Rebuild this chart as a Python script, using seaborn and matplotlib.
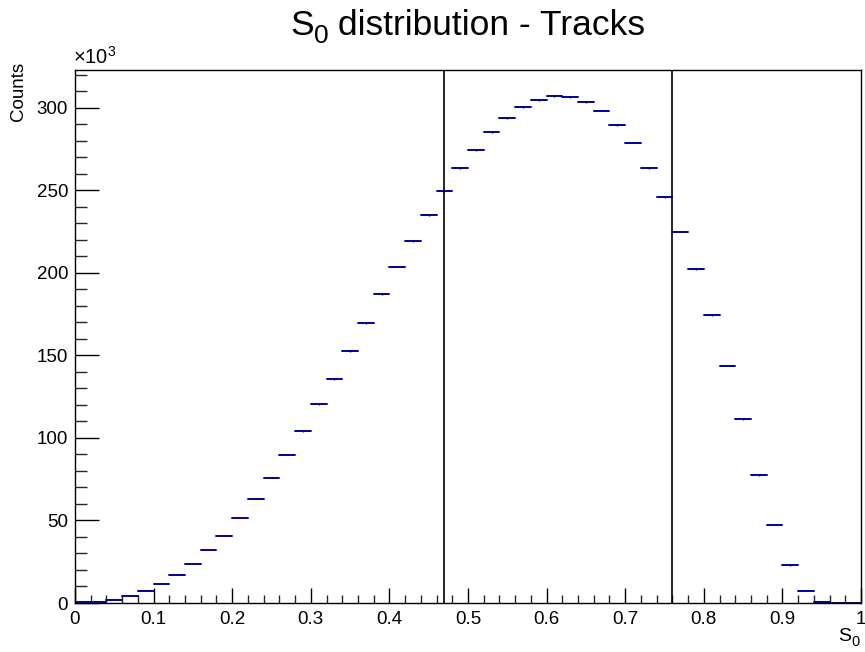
import numpy as np
import pandas as pd
import matplotlib
matplotlib.use("Agg")
import matplotlib.pyplot as plt
import seaborn as sns
from matplotlib.ticker import MultipleLocator, FuncFormatter

# S0 histogram: 50 bins on [0, 1]
bin_edges = np.linspace(0.0, 1.0, 51)
counts = np.array([
    0.4, 0.8, 1.8, 4.4, 7.5, 11.7, 17.2, 23.6, 32.1, 40.8,
    51.5, 63.2, 75.8, 89.7, 104.2, 120.4, 135.8, 152.7, 169.5, 187.3,
    203.8, 219.4, 235.0, 249.8, 263.6, 274.7, 285.4, 293.9, 300.8, 305.0,
    307.3, 306.7, 303.8, 298.4, 289.9, 279.0, 263.4, 245.9, 225.0, 202.4,
    174.4, 143.8, 111.5, 77.4, 47.3, 22.8, 7.1, 0.8, 0.2, 0.0,
]) * 1000.0
cut_positions = [0.47, 0.76]

title_main = "S"
title_sub = "0"
title_rest = " distribution - Tracks"
x_title = "S"
x_title_sub = "0"
y_title = "Counts"

sns.set_theme(style="white")
plt.rcParams["font.family"] = ["Liberation Sans", "DejaVu Sans"]
plt.rcParams["mathtext.fontset"] = "custom"
plt.rcParams["mathtext.rm"] = "Liberation Sans"
plt.rcParams["mathtext.it"] = "Liberation Sans:italic"

W, H = 865, 652
fig = plt.figure(figsize=(W / 100, H / 100), dpi=100)
fig.patch.set_facecolor("white")
ax = fig.add_axes([75 / W, 1 - 603 / H, (861 - 75) / W, (603 - 70) / H])
ax.set_facecolor("white")

# long-form table: each bin is a horizontal segment spanning its edges
lo = bin_edges[:-1]
hi = bin_edges[1:]
seg = pd.DataFrame({
    "bin": np.concatenate([np.arange(len(counts)), np.arange(len(counts))]),
    "x": np.concatenate([lo, hi]),
    "count": np.concatenate([counts, counts]),
})
blue = "#0000a0"
sns.lineplot(data=seg, x="x", y="count", units="bin", estimator=None,
             color=blue, lw=1.4, ax=ax, legend=False)
centers = 0.5 * (lo + hi)
err = np.sqrt(counts)
ax.vlines(centers, counts - err, counts + err, color="#000040", lw=1.0)

for c in cut_positions:
    ax.axvline(c, color="black", lw=1.2)

ax.set_xlim(0, 1)
ax.set_ylim(0, 323000)
ax.set_xlabel("")
ax.set_ylabel("")

for s in ax.spines.values():
    s.set_visible(True)
    s.set_color("black")
    s.set_linewidth(1.0)

ax.xaxis.set_major_locator(MultipleLocator(0.1))
ax.xaxis.set_minor_locator(MultipleLocator(0.02))
ax.yaxis.set_major_locator(MultipleLocator(50000))
ax.yaxis.set_minor_locator(MultipleLocator(10000))
ax.xaxis.set_major_formatter(FuncFormatter(lambda v, p: f"{v:g}"))
ax.yaxis.set_major_formatter(FuncFormatter(lambda v, p: f"{v / 1000:g}"))
ax.tick_params(axis="x", which="major", direction="in", length=11, width=1.0,
               labelsize=13.5, pad=6, colors="black", bottom=True, top=False)
ax.tick_params(axis="x", which="minor", direction="in", length=5.8, width=1.0,
               bottom=True, top=False)
ax.tick_params(axis="y", which="major", direction="in", length=17, width=1.0,
               labelsize=13.5, pad=5, colors="black", left=True, right=False)
ax.tick_params(axis="y", which="minor", direction="in", length=8.6, width=1.0,
               left=True, right=False)

fig.text(19 / W, 1 - 62 / H, y_title, rotation=90, ha="center", va="top",
         fontsize=13.5, color="black")
fig.text(73 / W, 1 - 64 / H, r"$\times10^{3}$", ha="left", va="baseline",
         fontsize=14.5, color="black")

renderer = fig.canvas.get_renderer()


def text_run(x_px, y_px, pieces):
    """Draw text pieces left to right; each piece is (text, size, baseline shift px)."""
    x = x_px
    for txt, size, dy in pieces:
        t = fig.text(x / W, (y_px + dy) / H, txt, fontsize=size, ha="left",
                     va="baseline", color="black")
        bb = t.get_window_extent(renderer=renderer)
        x = bb.x1
    return x


text_run(290, H - 35, [(title_main, 25.5, 0), (title_sub, 19, -8), (title_rest, 25.5, 0)])
text_run(838, H - 641, [(x_title, 14, 0), (x_title_sub, 10.5, -5)])

fig.savefig("out.png", dpi=100, facecolor="white")
